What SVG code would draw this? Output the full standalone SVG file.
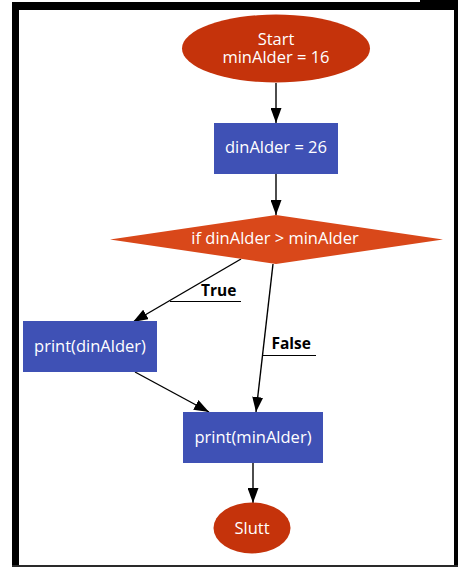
<svg xmlns="http://www.w3.org/2000/svg" width="458" height="567" viewBox="0 0 458 567">
  <style>
    .term { fill: #c5330b; }
    .cond { fill: #d9481a; }
    .proc { fill: #3f51b5; }
    .lbl { font-family: "Open Sans", "Noto Sans", sans-serif; font-size: 16.5px; fill: #ffffff; text-anchor: middle; }
    .elbl { font-family: "Open Sans", "Noto Sans", sans-serif; font-size: 15.5px; font-weight: bold; fill: #000000; }
    .edge { stroke: #000000; stroke-width: 1.4; fill: none; marker-end: url(#arrow); }
    .uline { stroke: #000000; stroke-width: 1.2; fill: none; }
  </style>
  <defs>
    <marker id="arrow" markerUnits="userSpaceOnUse" markerWidth="15" markerHeight="11" refX="15" refY="5.5" orient="auto">
      <path d="M0,0 L15,5.5 L0,11 Z" fill="#000000"/>
    </marker>
  </defs>

  <!-- page background and frame -->
  <rect x="0" y="0" width="458" height="567" fill="#ffffff"/>
  <g id="frame" fill="#000000">
    <rect x="12" y="2" width="446" height="8"/>
    <rect x="420" y="0" width="38" height="3"/>
    <rect x="12" y="2" width="7" height="565"/>
    <rect x="454" y="0" width="4" height="567"/>
    <rect x="12" y="565" width="446" height="2" fill="#2a2a2a"/>
  </g>

  <!-- connectors -->
  <g id="connectors">
    <line class="edge" x1="276" y1="83" x2="276" y2="123"/>
    <line class="edge" x1="276" y1="174" x2="276" y2="215"/>
    <line class="edge" x1="241" y1="259" x2="133" y2="322"/>
    <line class="uline" x1="170" y1="301.5" x2="241" y2="301.5"/>
    <text class="elbl" x="201" y="296">True</text>
    <line class="edge" x1="273" y1="264" x2="256" y2="412"/>
    <line class="uline" x1="263" y1="355.5" x2="316" y2="355.5"/>
    <text class="elbl" x="271.5" y="349">False</text>
    <line class="edge" x1="135" y1="372" x2="209" y2="412"/>
    <line class="edge" x1="253" y1="463" x2="253" y2="503"/>
  </g>

  <g id="start">
    <ellipse class="term" cx="276" cy="48.5" rx="94" ry="34"/>
    <text class="lbl" x="276" y="45">Start</text>
    <text class="lbl" x="276" y="63">minAlder = 16</text>
  </g>

  <g id="assign">
    <rect class="proc" x="214" y="123" width="124" height="51"/>
    <text class="lbl" x="276" y="153">dinAlder = 26</text>
  </g>

  <g id="decision">
    <polygon class="cond" points="110,239.5 276,215 443,239.5 276,264"/>
    <text class="lbl" x="275" y="243.5">if dinAlder &gt; minAlder</text>
  </g>

  <g id="printDin">
    <rect class="proc" x="23" y="321" width="134" height="51"/>
    <text class="lbl" x="90" y="352">print(dinAlder)</text>
  </g>

  <g id="printMin">
    <rect class="proc" x="183" y="412" width="140" height="51"/>
    <text class="lbl" x="253" y="442.5">print(minAlder)</text>
  </g>

  <g id="end">
    <ellipse class="term" cx="252" cy="528" rx="38.5" ry="25.5"/>
    <text class="lbl" x="252" y="533.5">Slutt</text>
  </g>
</svg>
